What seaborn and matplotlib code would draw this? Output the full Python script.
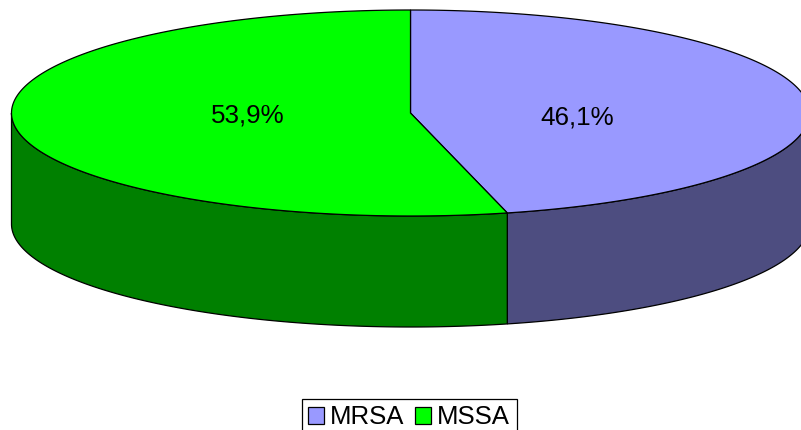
import numpy as np
import matplotlib
matplotlib.use("Agg")
import matplotlib.pyplot as plt
from matplotlib.patches import Polygon, Patch
import seaborn as sns

categories = ["MRSA", "MSSA"]
shares = [46.1, 53.9]
labels = ["46,1%", "53,9%"]
top_colors = ["#9999FF", "#00FF00"]
side_colors = ["#4D4D80", "#008000"]

sns.set_theme(style="white")
plt.rcParams["font.family"] = ["Liberation Sans", "DejaVu Sans"]

fig = plt.figure(figsize=(8.01, 4.30), dpi=100)
ax = fig.add_axes([0, 0, 1, 1])
ax.set_xlim(0, 801)
ax.set_ylim(430, 0)
ax.axis("off")

cx, cy, rx, ry, depth = 410.5, 113, 399, 103, 111


def rim(a0, a1, dy=0.0):
    t = np.radians(np.linspace(a0, a1, 400))
    return np.column_stack([cx + rx * np.sin(t), cy + dy - ry * np.cos(t)])


edges = np.concatenate([[0], np.cumsum(shares)]) * 3.6

# Side walls: only the front half (90..270 degrees clockwise from the top)
for i in range(len(shares)):
    a0, a1 = max(edges[i], 90), min(edges[i + 1], 270)
    if a1 > a0:
        wall = np.vstack([rim(a0, a1), rim(a0, a1, depth)[::-1]])
        ax.add_patch(Polygon(wall, closed=True, facecolor=side_colors[i],
                             edgecolor="black", linewidth=0.9, zorder=2))

# Top slices
for i in range(len(shares)):
    slice_pts = np.vstack([[cx, cy], rim(edges[i], edges[i + 1])])
    ax.add_patch(Polygon(slice_pts, closed=True, facecolor=top_colors[i],
                         edgecolor="black", linewidth=0.9, zorder=3))

ax.text(577, 118, labels[0], ha="center", va="center", fontsize=18.7, color="black", zorder=4)
ax.text(247.5, 116, labels[1], ha="center", va="center", fontsize=18.7, color="black", zorder=4)

handles = [Patch(facecolor=c, edgecolor="black", linewidth=0.9) for c in top_colors]
leg = ax.legend(handles, categories, loc="upper left",
                bbox_to_anchor=(301.5 / 801, 1 - 398.5 / 430),
                bbox_transform=fig.transFigure, ncol=2, fontsize=18.5, frameon=True,
                fancybox=False, framealpha=1, edgecolor="black", borderaxespad=0,
                handlelength=0.6, handleheight=0.6, handletextpad=0.24,
                columnspacing=0.42, borderpad=0.27, labelcolor="black")
leg.get_frame().set_linewidth(0.9)

fig.savefig("out.png", dpi=100, facecolor="white")
